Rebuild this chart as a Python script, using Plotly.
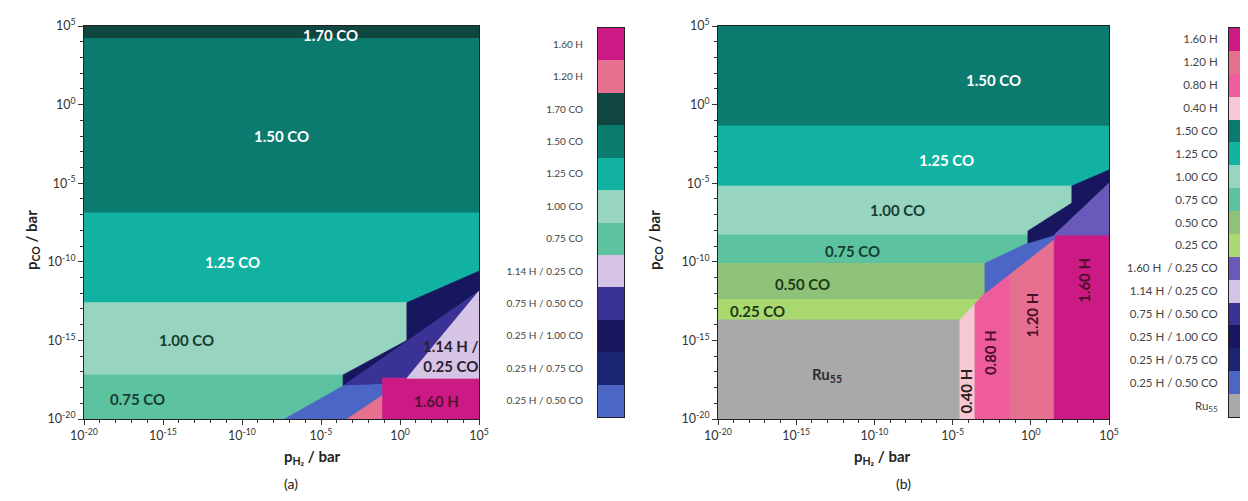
import plotly.graph_objects as go

# ---------------- data (log10 of pressures, bar) ----------------
TICK_VALS = [-20, -15, -10, -5, 0, 5]
TICK_TEXT = ["10<sup>-20</sup>", "10<sup>-15</sup>", "10<sup>-10</sup>",
             "10<sup>-5</sup>", "10<sup>0</sup>", "10<sup>5</sup>"]

# Panel (a) regions: phase name, polygon vertices (log10 pH2, log10 pCO)
A_NAMES = ["1.70 CO", "1.50 CO", "1.25 CO", "1.00 CO", "0.75 CO",
           "0.25 H / 1.00 CO", "0.75 H / 0.50 CO", "0.25 H / 0.50 CO",
           "1.20 H", "1.60 H", "1.14 H / 0.25 CO"]
A_X = [[-20, 5, 5, -20],
       [-20, 5, 5, -20],
       [-20, 0.44, 5, 5, -20],
       [-20, -3.6, 0.44, 0.44, -20],
       [-20, -7.3, -3.6, -3.6, -20],
       [0.44, 5, 5, -3.6, -3.6, 0.44],
       [-3.6, 5, 0.44, -1.1, -1.1],
       [-7.3, -3.35, -1.1, -1.1, -3.6],
       [-3.35, -1.1, -1.1],
       [-1.1, 5, 5, -1.1],
       [0.44, 5, 5]]
A_Y = [[4.2, 4.2, 5, 5],
       [-6.9, -6.9, 4.2, 4.2],
       [-12.6, -12.6, -10.6, -6.9, -6.9],
       [-17.2, -17.2, -15.0, -12.6, -12.6],
       [-20, -20, -17.9, -17.2, -17.2],
       [-12.6, -10.6, -11.86, -17.9, -17.2, -15.0],
       [-17.9, -11.86, -17.4, -17.4, -17.8],
       [-20, -20, -18.5, -17.8, -17.9],
       [-20, -20, -18.5],
       [-20, -20, -17.4, -17.4],
       [-17.4, -17.4, -11.86]]

# Panel (b) regions
B_NAMES = ["1.50 CO", "1.25 CO", "1.00 CO", "0.75 CO", "0.50 CO", "0.25 CO",
           "Ru55", "0.40 H", "0.80 H", "1.20 H", "1.60 H",
           "0.25 H / 0.50 CO", "0.25 H / 1.00 CO", "1.60 H / 0.25 CO"]
B_X = [[-20, 5, 5, -20],
       [-20, 2.63, 5, 5, -20],
       [-20, -0.18, -0.18, 2.63, 2.63, -20],
       [-20, -2.93, -0.18, -0.18, -20],
       [-20, -3.31, -2.93, -2.93, -20],
       [-20, -4.53, -3.31, -20],
       [-20, -4.53, -4.53, -20],
       [-4.53, -3.57, -3.57, -4.53],
       [-3.57, -1.33, -1.33, -2.93, -3.57],
       [-1.33, 1.5, 1.5, -1.33],
       [1.5, 5, 5, 1.5],
       [-2.93, -2.93, -0.18, 1.5, 1.5, -1.33],
       [-0.18, -0.18, 2.63, 2.63, 5, 5, 1.5],
       [1.5, 5, 5]]
B_Y = [[-1.36, -1.36, 5, 5],
       [-5.18, -5.18, -4.16, -1.36, -1.36],
       [-8.3, -8.3, -8.04, -6.26, -5.18, -5.18],
       [-10.1, -10.1, -8.8, -8.3, -8.3],
       [-12.4, -12.4, -12.0, -10.1, -10.1],
       [-13.7, -13.7, -12.4, -12.4],
       [-20, -20, -13.7, -13.7],
       [-20, -20, -12.68, -13.7],
       [-20, -20, -10.75, -12.0, -12.68],
       [-20, -20, -8.55, -10.75],
       [-20, -20, -8.3, -8.3],
       [-12.0, -10.1, -8.8, -8.3, -8.55, -10.75],
       [-8.8, -8.04, -6.26, -5.18, -4.16, -5.0, -8.3],
       [-8.3, -8.3, -5.0]]

# region labels
A_LABELS = ["1.70 CO", "1.50 CO", "1.25 CO", "1.00 CO", "0.75 CO", "1.14 H /<br>0.25 CO", "1.60 H"]
A_LX = [-4.4, -7.5, -10.6, -13.5, -16.6, 3.2, 2.3]
A_LY = [4.45, -2.0, -10.0, -15.0, -18.7, -16.0, -18.85]

B_LABELS = ["1.50 CO", "1.25 CO", "1.00 CO", "0.75 CO", "0.50 CO", "0.25 CO",
            "Ru<sub>55</sub>", "0.40 H", "0.80 H", "1.20 H", "1.60 H"]
B_LX = [-2.4, -5.4, -8.5, -11.4, -14.6, -17.5, -13.0, -4.15, -2.6, 0.1, 3.35]
B_LY = [1.56, -3.5, -6.7, -9.3, -11.4, -13.1, -17.2, -18.2, -15.8, -13.4, -11.2]

# colour-bar legends (top to bottom)
CB_A = ["1.60 H", "1.20 H", "1.70 CO", "1.50 CO", "1.25 CO", "1.00 CO", "0.75 CO",
        "1.14 H / 0.25 CO", "0.75 H / 0.50 CO", "0.25 H / 1.00 CO",
        "0.25 H / 0.75 CO", "0.25 H / 0.50 CO"]
CB_B = ["1.60 H", "1.20 H", "0.80 H", "0.40 H", "1.50 CO", "1.25 CO", "1.00 CO",
        "0.75 CO", "0.50 CO", "0.25 CO", "1.60 H  / 0.25 CO", "1.14 H / 0.25 CO",
        "0.75 H / 0.50 CO", "0.25 H / 1.00 CO", "0.25 H / 0.75 CO",
        "0.25 H / 0.50 CO", "Ru55"]

# ---------------- styles ----------------
COLORS = {
    "1.70 CO": "#0f4640", "1.50 CO": "#0b7b70", "1.25 CO": "#12b2a2",
    "1.00 CO": "#97d5c1", "0.75 CO": "#5cc29f", "0.50 CO": "#8fc279",
    "0.25 CO": "#a9d96f", "1.60 H": "#cc1a84", "1.20 H": "#e6708f",
    "0.80 H": "#ef5c9e", "0.40 H": "#f6c8d3", "1.14 H / 0.25 CO": "#d6c4e6",
    "1.60 H / 0.25 CO": "#6b58bb", "1.60 H  / 0.25 CO": "#6b58bb",
    "0.75 H / 0.50 CO": "#3a3294",
    "0.25 H / 1.00 CO": "#17165e", "0.25 H / 0.75 CO": "#1c2474",
    "0.25 H / 0.50 CO": "#4b66c4", "Ru55": "#a9a9a9",
}
A_LCOL = ["white", "white", "white", "#153d33", "#153d33", "#2a2030", "#5a0f35"]
B_LCOL = ["white", "white", "#153d33", "#153d33", "#1f3a16", "#1f3a16",
          "#2e2e2e", "#2a2020", "#4a0f2a", "#4a0f2a", "#4a0f2a"]
B_LANG = [0, 0, 0, 0, 0, 0, 0, -90, -90, -90, -90]

W, H = 1248, 501
OFF_X, OFF_Y = 8, 5
FONT = "Lato, 'Open Sans', sans-serif"
LBL = 15

def px_x(p):
    return (p - OFF_X) / W

def px_y(p):
    return 1 - (p - OFF_Y) / H

fig = go.Figure()

def add_regions(names, xs, ys, xa, ya):
    for n, x, y in zip(names, xs, ys):
        c = COLORS[n]
        fig.add_trace(go.Scatter(x=x + [x[0]], y=y + [y[0]], mode="lines",
                                 fill="toself", fillcolor=c,
                                 line=dict(color=c, width=0.8),
                                 hoverinfo="skip", showlegend=False,
                                 xaxis=xa, yaxis=ya))

add_regions(A_NAMES, A_X, A_Y, "x", "y")
add_regions(B_NAMES, B_X, B_Y, "x2", "y2")

def add_cbar(labels, xa, ya):
    fig.add_trace(go.Bar(x=[1] * len(labels), y=labels, orientation="h",
                         width=1, marker=dict(color=[COLORS[l] for l in labels],
                                              line=dict(width=0)),
                         hoverinfo="skip", showlegend=False,
                         xaxis=xa, yaxis=ya))

add_cbar(CB_A, "x3", "y3")
add_cbar(CB_B, "x4", "y4")

axis_common = dict(range=[-20, 5], tickvals=TICK_VALS, ticktext=TICK_TEXT,
                   ticks="outside", ticklen=5, tickcolor="#333", tickwidth=1,
                   minor=dict(dtick=1, ticks="outside", ticklen=3, tickcolor="#333"),
                   showgrid=False, zeroline=False, showline=True,
                   linecolor="#222", linewidth=1, mirror=True, automargin=False,
                   tickfont=dict(family=FONT, size=12.5, color="#333"))

cb_x = dict(range=[0, 1], showticklabels=False, ticks="", showgrid=False,
            zeroline=False, showline=True, linecolor="#222", linewidth=1,
            mirror=True, automargin=False)
cb_y = dict(type="category", ticks="", showgrid=False, showline=True,
            linecolor="#222", linewidth=1, mirror=True, automargin=False)

fig.update_layout(
    width=W, height=H, margin=dict(l=0, r=0, t=0, b=0, autoexpand=False),
    paper_bgcolor="white", plot_bgcolor="white", bargap=0,
    font=dict(family=FONT),
    xaxis=dict(domain=[px_x(84), px_x(479)], anchor="y", **axis_common),
    yaxis=dict(domain=[px_y(416), px_y(23)], anchor="x", **axis_common),
    xaxis2=dict(domain=[px_x(718), px_x(1109)], anchor="y2", **axis_common),
    yaxis2=dict(domain=[px_y(416), px_y(23)], anchor="x2", **axis_common),
    xaxis3=dict(domain=[px_x(598), px_x(624)], anchor="y3", **cb_x),
    yaxis3=dict(domain=[px_y(414), px_y(25)], anchor="x3",
                range=[len(CB_A) - 0.5, -0.5], ticklabelstandoff=12,
                tickfont=dict(family=FONT, size=10, color="#444"), **cb_y),
    xaxis4=dict(domain=[px_x(1229), px_x(1256)], anchor="y4", **cb_x),
    yaxis4=dict(domain=[px_y(414), px_y(25)], anchor="x4",
                range=[len(CB_B) - 0.5, -0.5], ticklabelstandoff=8,
                tickvals=CB_B,
                ticktext=[("Ru<sub>55</sub>" if l == "Ru55" else l) for l in CB_B],
                tickfont=dict(family=FONT, size=11.5, color="#444"), **cb_y),
)

ann = []
for t, x, y, c in zip(A_LABELS, A_LX, A_LY, A_LCOL):
    ann.append(dict(text="<b>" + t + "</b>", x=x, y=y, xref="x", yref="y",
                    showarrow=False, font=dict(family=FONT, size=LBL, color=c)))
for t, x, y, c, a in zip(B_LABELS, B_LX, B_LY, B_LCOL, B_LANG):
    ann.append(dict(text="<b>" + t + "</b>", x=x, y=y, xref="x2", yref="y2",
                    showarrow=False, textangle=a,
                    font=dict(family=FONT, size=LBL, color=c)))

for cx, ytx in [(20, 237), (655, 237)]:
    ann.append(dict(text="<b>p<sub>CO</sub> / bar</b>", x=px_x(cx), y=px_y(ytx),
                    xref="paper", yref="paper", showarrow=False, textangle=-90,
                    font=dict(family=FONT, size=15, color="#222")))
for cx, lab in [(282, "(a)"), (913, "(b)")]:
    ann.append(dict(text="<b>p<sub>H₂</sub> / bar</b>", x=px_x(cx), y=px_y(466),
                    xref="paper", yref="paper", showarrow=False,
                    font=dict(family=FONT, size=15, color="#222")))
    ann.append(dict(text=lab, x=px_x(cx), y=px_y(491),
                    xref="paper", yref="paper", showarrow=False,
                    font=dict(family=FONT, size=14, color="#222")))

fig.update_layout(annotations=ann)
fig.write_html("out.html")
